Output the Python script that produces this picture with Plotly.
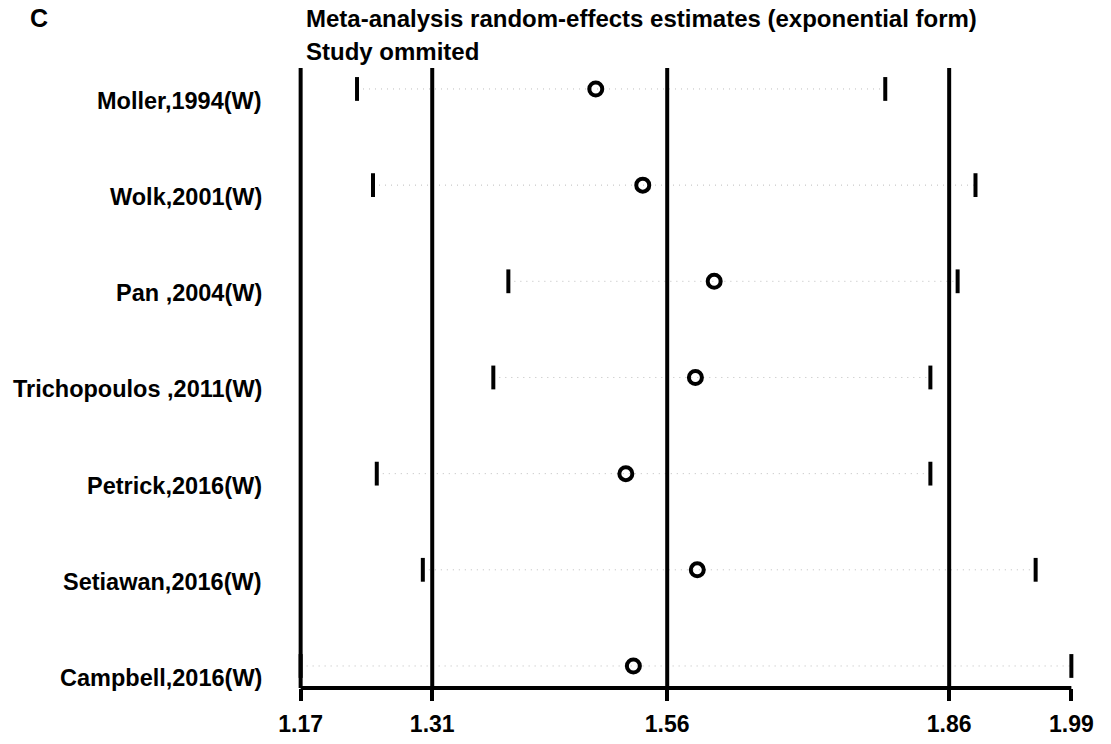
import plotly.graph_objects as go

studies = ["Moller,1994(W)", "Wolk,2001(W)", "Pan ,2004(W)", "Trichopoulos ,2011(W)",
           "Petrick,2016(W)", "Setiawan,2016(W)", "Campbell,2016(W)"]
estimate = [1.484, 1.534, 1.610, 1.590, 1.516, 1.592, 1.524]
lower = [1.230, 1.247, 1.391, 1.375, 1.251, 1.300, 1.170]
upper = [1.792, 1.888, 1.869, 1.840, 1.840, 1.952, 1.990]
ref_lines = [1.17, 1.31, 1.56, 1.86]
tick_vals = [1.17, 1.31, 1.56, 1.86, 1.99]
tick_text = ["1.17", "1.31", "1.56", "1.86", "1.99"]

FONT = "Liberation Sans, Arial, sans-serif"
rows = list(range(len(studies)))

W, H = 1111, 744
L = 295
T = 68
B_PAGE = 688
PW = 782
R = W - L - PW
B = H - B_PAGE
PH = H - T - B


def px_x(p):
    return (p - L) / PW


def px_y(p):
    return (B_PAGE - p) / PH


fig = go.Figure()

# dotted CI guides
for i in rows:
    fig.add_trace(go.Scatter(
        x=[lower[i], upper[i]], y=[i, i], mode="lines",
        line=dict(color="#bdbdbd", width=1, dash="1px,5px"),
        hoverinfo="skip", showlegend=False))

# CI bounds
fig.add_trace(go.Scatter(
    x=lower + upper, y=rows + rows, mode="markers",
    marker=dict(symbol="line-ns", size=17, line=dict(color="black", width=4)),
    showlegend=False))

# point estimates
fig.add_trace(go.Scatter(
    x=estimate, y=rows, mode="markers",
    marker=dict(symbol="circle-open", size=13, color="black",
                line=dict(color="black", width=4)),
    showlegend=False))

# vertical reference lines
for v in ref_lines:
    fig.add_shape(type="line", xref="x", yref="paper", x0=v, x1=v, y0=0, y1=1,
                  line=dict(color="black", width=4))
# bottom axis line
fig.add_shape(type="line", xref="x", yref="paper", x0=tick_vals[0], x1=tick_vals[-1],
              y0=0, y1=0, line=dict(color="black", width=4))

# study labels
for i, s in enumerate(studies):
    fig.add_annotation(xref="paper", yref="y", x=0, y=i, xanchor="right", yanchor="middle",
                       xshift=-31, yshift=-12, text="<b>%s</b>" % s, showarrow=False,
                       font=dict(family=FONT, size=23.5, color="black"))

# titles
fig.add_annotation(xref="paper", yref="paper", x=px_x(304), y=px_y(19),
                   xanchor="left", yanchor="middle", showarrow=False,
                   text="<b>Meta-analysis random-effects estimates (exponential form)</b>",
                   font=dict(family=FONT, size=24, color="black"))
fig.add_annotation(xref="paper", yref="paper", x=px_x(304), y=px_y(52),
                   xanchor="left", yanchor="middle", showarrow=False,
                   text="<b>Study ommited</b>",
                   font=dict(family=FONT, size=24, color="black"))
fig.add_annotation(xref="paper", yref="paper", x=px_x(28), y=px_y(18),
                   xanchor="left", yanchor="middle", showarrow=False,
                   text="<b>C</b>", font=dict(family=FONT, size=25, color="black"))

fig.update_layout(
    width=W, height=H,
    margin=dict(l=L, r=R, t=T, b=B, autoexpand=False),
    paper_bgcolor="white", plot_bgcolor="white",
    showlegend=False,
    xaxis=dict(range=[1.164, 1.996], showgrid=False, zeroline=False, showline=False,
               automargin=False,
               tickmode="array", tickvals=tick_vals, ticktext=["<b>%s</b>" % t for t in tick_text],
               ticks="outside", ticklen=12, tickwidth=4, tickcolor="black",
               ticklabelstandoff=3,
               tickfont=dict(family=FONT, size=23, color="black")),
    yaxis=dict(range=[6.229, -0.218], showgrid=False, zeroline=False, showline=False,
               automargin=False, showticklabels=False, ticks=""),
)

fig.write_html("out.html",
               config={"displayModeBar": False},
               post_script="document.body.style.margin='0px';document.body.style.overflow='hidden';")
